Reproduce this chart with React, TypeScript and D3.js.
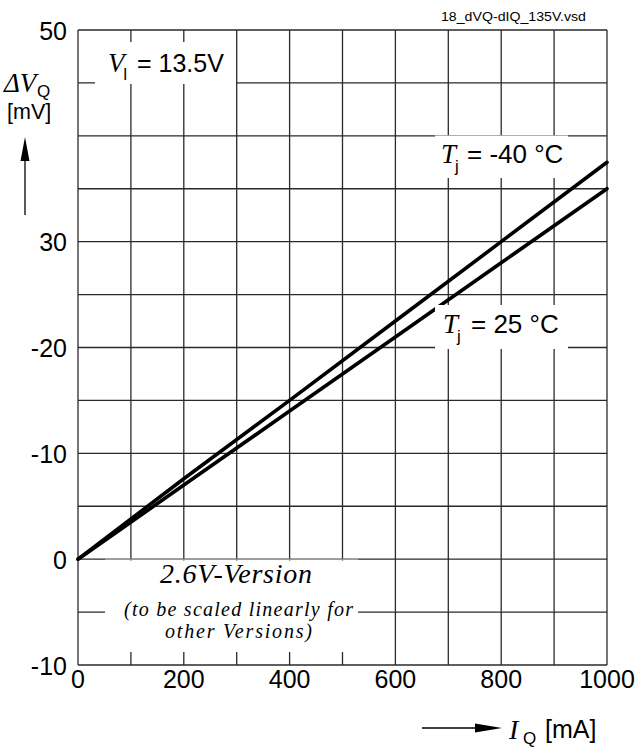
import React from "react";
import * as d3 from "d3";

// ---- data ----
const xGridValues = [0, 100, 200, 300, 400, 500, 600, 700, 800, 900, 1000];
const xTickValues = [0, 200, 400, 600, 800, 1000];
const xTickLabels = ["0", "200", "400", "600", "800", "1000"];
const yGridValues = [-10, -5, 0, 5, 10, 15, 20, 25, 30, 35, 40, 45, 50];
const yTickValues = [50, 30, 20, 10, 0, -10];
const yTickLabels = ["50", "30", "-20", "-10", "0", "-10"];
const currentMA = [0, 200, 400, 600, 800, 1000];
const dvTjMinus40 = [0, 7.6, 15, 22.5, 30, 37.5];
const dvTj25 = [0, 7, 14, 21, 28, 35];

const SANS = "'Liberation Sans', Arial, sans-serif";
const SERIF = "'Liberation Serif', 'Times New Roman', serif";

export default function App() {
  const x = d3.scaleLinear().domain([0, 1000]).range([78, 607]);
  const y = d3.scaleLinear().domain([-10, 50]).range([665, 30]);
  const line = d3
    .line<number>()
    .x((_, i) => x(currentMA[i]))
    .y((d) => y(d));

  const gridColor = "#2a2a2a";

  return (
    <svg
      width={637}
      height={747}
      style={{ position: "absolute", left: 0, top: 0, background: "#fff" }}
    >
      <rect x={0} y={0} width={637} height={747} fill="#fff" />
      {/* grid */}
      {xGridValues.map((v) => (
        <line
          key={"gx" + v}
          x1={x(v)}
          x2={x(v)}
          y1={y(50)}
          y2={y(-10)}
          stroke={gridColor}
          strokeWidth={1.3}
        />
      ))}
      {yGridValues.map((v) => (
        <line
          key={"gy" + v}
          x1={x(0)}
          x2={x(1000)}
          y1={y(v)}
          y2={y(v)}
          stroke={gridColor}
          strokeWidth={1.3}
        />
      ))}

      {/* curves */}
      <path d={line(dvTjMinus40) || ""} fill="none" stroke="#000" strokeWidth={3.6} strokeLinecap="round" />
      <path d={line(dvTj25) || ""} fill="none" stroke="#000" strokeWidth={3.6} strokeLinecap="round" />

      {/* label boxes */}
      <rect x={95} y={42} width={141} height={42} fill="#fff" />
      <rect x={435} y={135.5} width={133} height={42.5} fill="#fff" />
      <rect x={435} y={305} width={133} height={44} fill="#fff" />
      <rect x={105} y={560.5} width={253} height={91.5} fill="#fff" />
      <line x1={105} x2={358} y1={y(0)} y2={y(0)} stroke="#bbb" strokeWidth={1} />

      {/* y tick labels */}
      {yTickValues.map((v, i) => (
        <text
          key={"yt" + i}
          x={67}
          y={y(v) + 9.5}
          textAnchor="end"
          fontFamily={SANS}
          fontSize={25}
          fill="#000"
        >
          {yTickLabels[i]}
        </text>
      ))}
      {/* x tick labels */}
      {xTickValues.map((v, i) => (
        <text
          key={"xt" + i}
          x={x(v)}
          y={688}
          textAnchor="middle"
          fontFamily={SANS}
          fontSize={25}
          fill="#000"
        >
          {xTickLabels[i]}
        </text>
      ))}

      {/* file name */}
      <text x={441} y={21} fontFamily={SANS} fontSize={13.5} fill="#000" textLength={145} lengthAdjust="spacingAndGlyphs">
        18_dVQ-dIQ_135V.vsd
      </text>

      {/* y axis title */}
      <text x={4} y={92} fontFamily={SERIF} fontStyle="italic" fontSize={27} fill="#000">
        ΔV
      </text>
      <text x={37} y={97} fontFamily={SANS} fontSize={17} fill="#000">
        Q
      </text>
      <text x={7} y={119} fontFamily={SANS} fontSize={21.5} fill="#000">
        [mV]
      </text>
      <line x1={25} x2={25} y1={158} y2={215} stroke="#000" strokeWidth={1.3} />
      <path d="M25,137 L20.5,161 L29.5,161 Z" fill="#000" />

      {/* x axis title */}
      <line x1={422} x2={480} y1={728} y2={728} stroke="#000" strokeWidth={1.3} />
      <path d="M502,728 L475,723.5 L475,732.5 Z" fill="#000" />
      <text x={509} y={739} fontFamily={SERIF} fontStyle="italic" fontSize={28} fill="#000">
        I
      </text>
      <text x={523} y={744} fontFamily={SANS} fontSize={17} fill="#000">
        Q
      </text>
      <text x={545} y={738} fontFamily={SANS} fontSize={25} fill="#000">
        [mA]
      </text>

      {/* V_I label */}
      <text x={108} y={72} fontFamily={SERIF} fontStyle="italic" fontSize={27} fill="#000">
        V
      </text>
      <text x={123} y={80} fontFamily={SANS} fontSize={16} fill="#000">
        I
      </text>
      <text x={137} y={72} fontFamily={SANS} fontSize={25} fill="#000">
        = 13.5V
      </text>

      {/* Tj = -40 */}
      <text x={441} y={163} fontFamily={SERIF} fontStyle="italic" fontSize={27} fill="#000">
        T
      </text>
      <text x={455} y={172} fontFamily={SANS} fontSize={17} fill="#000">
        j
      </text>
      <text x={467} y={163} fontFamily={SANS} fontSize={26} fill="#000">
        = -40 °C
      </text>

      {/* Tj = 25 */}
      <text x={443} y={333} fontFamily={SERIF} fontStyle="italic" fontSize={27} fill="#000">
        T
      </text>
      <text x={457} y={342} fontFamily={SANS} fontSize={17} fill="#000">
        j
      </text>
      <text x={471} y={333} fontFamily={SANS} fontSize={26} fill="#000">
        = 25 °C
      </text>

      {/* version note */}
      <text x={160} y={583} fontFamily={SERIF} fontStyle="italic" fontSize={28} fill="#000" textLength={152} lengthAdjust="spacing">
        2.6V-Version
      </text>
      <text x={124} y={616} fontFamily={SERIF} fontStyle="italic" fontSize={20} fill="#000" textLength={229} lengthAdjust="spacing">
        (to be scaled linearly for
      </text>
      <text x={165} y={638} fontFamily={SERIF} fontStyle="italic" fontSize={20} fill="#000" textLength={147} lengthAdjust="spacing">
        other Versions)
      </text>
    </svg>
  );
}
